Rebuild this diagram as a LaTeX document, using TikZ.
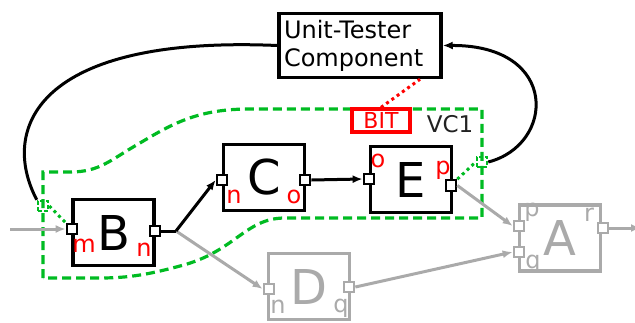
\documentclass[tikz,border=0pt]{standalone}
\usepackage{fontspec}
\setmainfont{DejaVu Sans}
\usetikzlibrary{arrows.meta}
\definecolor{vgreen}{RGB}{0,187,34}
\definecolor{lgray}{RGB}{170,170,170}
\definecolor{dtext}{RGB}{34,34,34}
\begin{document}
\begin{tikzpicture}[x=1pt,y=-1pt,
  comp/.style={draw, line width=3.5pt, minimum width=81pt, minimum height=66pt, inner sep=0pt, fill=white, font=\fontsize{48}{48}\selectfont},
  gcomp/.style={comp, draw=lgray, text=lgray},
  port/.style={draw, line width=2.2pt, fill=white, minimum size=10.5pt, inner sep=0pt},
  gport/.style={port, draw=lgray},
  vport/.style={draw=vgreen, line width=2.5pt, dash pattern=on 4pt off 2pt, minimum size=10pt, inner sep=0pt},
  plab/.style={text=red, font=\fontsize{24}{24}\selectfont, inner sep=0pt, anchor=base},
  glab/.style={plab, text=lgray},
  blk/.style={line width=3pt, -{Latex[length=10pt,width=8pt]}},
  gry/.style={line width=3pt, draw=lgray, -{Latex[length=10pt,width=8pt]}},
  dotl/.style={line width=3pt, dash pattern=on 3pt off 3.5pt},
  vc/.style={draw=vgreen, line width=3.2pt, dash pattern=on 9pt off 5pt}
]
\clip (0,0) rectangle (635,322);
\useasboundingbox (0,0) rectangle (635,322);

% virtual component region
\draw[vc] (43,278) -- (43,172) -- (70,172) .. controls (100,172) and (110,160) .. (140,143)
  .. controls (175,122) and (200,109) .. (250,109) -- (482,109) -- (482,218) -- (285,218)
  .. controls (245,218) and (235,252) .. (180,266) .. controls (150,274) and (130,278) .. (100,278) -- cycle;

% unit tester
\node[draw, line width=3.5pt, fill=white, text width=152pt, inner sep=5pt, minimum height=64pt, align=left,
  font=\fontsize{24}{28}\selectfont] (ut) at (360,45.5) {Unit-Tester\\Component};

\node[draw=red, text=red, line width=3.2pt, minimum width=58pt, minimum height=23pt, inner sep=0pt,
  font=\fontsize{22}{22}\selectfont] (bit) at (381,120.5) {BIT};
\node[text=dtext, font=\fontsize{23}{23}\selectfont, inner sep=0pt] (vclab) at (450,124) {VC1};

% components
\node[comp] (B) at (113.5,232.5) {B};
\node[comp] (C) at (264,177.5) {C};
\node[comp] (E) at (411,179.5) {E};
\node[gcomp] (D) at (309,286.5) {D};
\node[gcomp] (A) at (560,238) {A};

% ports
\node[port] (Bm) at (72,229) {};
\node[port] (Bn) at (155,231) {};
\node[port] (Cn) at (222,180) {};
\node[port] (Co) at (305,180) {};
\node[port] (Eo) at (369,179) {};
\node[port] (Ep) at (451,185.5) {};
\node[gport] (Dn) at (269,289) {};
\node[gport] (Dq) at (349,287) {};
\node[gport] (Ap) at (519,226) {};
\node[gport] (Aq) at (519,252) {};
\node[gport] (Ar) at (603,228) {};
\node[vport] (vcl) at (43,206) {};
\node[vport] (vcr) at (482,162) {};

% port labels
\node[plab] (lBm) at (84,252) {m};
\node[plab] (lBn) at (144,256) {n};
\node[plab] (lCn) at (234,203) {n};
\node[plab] (lCo) at (294,203) {o};
\node[plab] (lEo) at (378,167) {o};
\node[plab] (lEp) at (443,174) {p};
\node[glab] (lDn) at (278,313) {n};
\node[glab] (lDq) at (341,312) {q};
\node[glab] (lAp) at (532,216) {p};
\node[glab] (lAq) at (533,268) {q};
\node[glab] (lAr) at (589,221) {r};

% connectors
\coordinate (J) at (176,231);
\coordinate (in) at (10,229);
\coordinate (out) at (641,228);
\draw[gry] (J) -- (Dn.west);
\draw[line width=3pt] (Bn.east) -- (J);
\draw[blk] (J) -- (Cn.west);
\draw[blk] (Co.east) -- (Eo.west);
\draw[gry] (in) -- (Bm.west);
\draw[gry] (Ep.east) -- (Ap.west);
\draw[gry] (Dq.east) -- (Aq.west);
\draw[gry] (Ar.east) -- (out);

\draw[dotl, draw=red] (bit.north) -- (ut.south east -| 420,0);
\draw[dotl, draw=vgreen] (Ep.north east) -- (vcr.west);
\draw[dotl, draw=vgreen] (vcl.east) -- (Bm.north west);

\draw[line width=3pt] (ut.west) .. controls (35,35) and (0,130) .. (vcl.north west);
\draw[blk] (vcr.east) .. controls (555,145) and (560,45) .. (ut.east);
\end{tikzpicture}
\end{document}
